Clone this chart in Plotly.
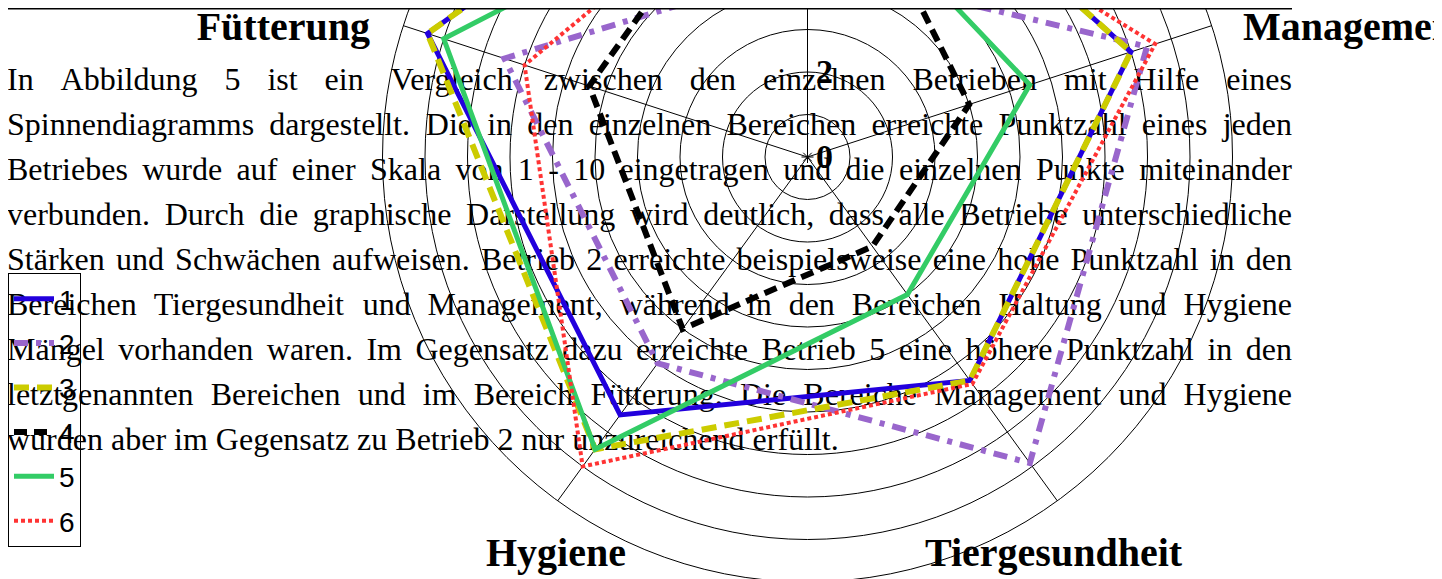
import math
import plotly.graph_objects as go

# ---------------- data ----------------
categories = ["Haltung", "Management", "Tiergesundheit", "Hygiene", "Fütterung"]
series_names = ["1", "2", "3", "4", "5", "6"]
betrieb_1 = [9.3, 8.0, 6.5, 7.5, 9.4]
betrieb_2 = [4.5, 8.4, 8.9, 6.0, 7.5]
betrieb_3 = [9.3, 8.0, 6.5, 8.5, 9.4]
betrieb_4 = [8.9, 4.0, 2.6, 5.0, 5.4]
betrieb_5 = [7.2, 5.5, 4.0, 8.5, 9.0]
betrieb_6 = [7.7, 8.6, 6.6, 9.0, 7.0]
radial_ticks = [0, 2, 4, 6, 8, 10]
radial_max = 10

paragraph_lines = [
    "In Abbildung 5 ist ein Vergleich zwischen den einzelnen Betrieben mit Hilfe eines",
    "Spinnendiagramms dargestellt. Die in den einzelnen Bereichen erreichte Punktzahl eines jeden",
    "Betriebes wurde auf einer Skala von 1 - 10 eingetragen und die einzelnen Punkte miteinander",
    "verbunden. Durch die graphische Darstellung wird deutlich, dass alle Betriebe unterschiedliche",
    "Stärken und Schwächen aufweisen. Betrieb 2 erreichte beispielsweise eine hohe Punktzahl in den",
    "Bereichen Tiergesundheit und Management, während in den Bereichen Haltung und Hygiene",
    "Mängel vorhanden waren. Im Gegensatz dazu erreichte Betrieb 5 eine höhere Punktzahl in den",
    "letztgenannten Bereichen und im Bereich Fütterung. Die Bereiche Management und Hygiene",
    "wurden aber im Gegensatz zu Betrieb 2 nur unzureichend erfüllt.",
]

# ---------------- styles / geometry ----------------
SCREEN_W, SCREEN_H = 1442, 579
OFF = 8                              # page body margin
FIG_W, FIG_H = SCREEN_W - OFF, SCREEN_H - OFF
CX, CY = 807.5, 157.0                # screen pixel position of chart centre
S = 42.5                             # pixels per score unit

colors = ["#2200dd", "#9966cc", "#cccc00", "#000000", "#33cc66", "#ff3333"]
widths = [5, 6, 6, 6, 5, 4]
dashes = ["solid", "14px,8px,5px,8px", "15px,8px", "13px,7px", "solid", "4px,3px"]

SERIF = "Liberation Serif"
SANS = "Liberation Sans"
BODY_SIZE = 32
TITLE_SIZE = 40


def px_x(px):
    return (px - CX) / S


def px_y(py):
    return (CY - py) / S


n_cat = len(categories)
angles = [2 * math.pi * i / n_cat for i in range(n_cat)]


def to_xy(values):
    xs = [v * math.sin(a) for v, a in zip(values, angles)]
    ys = [v * math.cos(a) for v, a in zip(values, angles)]
    return xs + xs[:1], ys + ys[:1]


# Times / Liberation Serif advance widths (per 1000 em)
TW = {
    ' ': 250, 'a': 444, 'b': 500, 'c': 444, 'd': 500, 'e': 444, 'f': 333, 'g': 500, 'h': 500,
    'i': 278, 'j': 278, 'k': 500, 'l': 278, 'm': 778, 'n': 500, 'o': 500, 'p': 500, 'q': 500,
    'r': 333, 's': 389, 't': 278, 'u': 500, 'v': 500, 'w': 722, 'x': 500, 'y': 500, 'z': 444,
    'A': 722, 'B': 667, 'C': 667, 'D': 722, 'E': 611, 'F': 556, 'G': 722, 'H': 722, 'I': 333,
    'J': 389, 'K': 722, 'L': 611, 'M': 889, 'N': 722, 'O': 722, 'P': 556, 'Q': 722, 'R': 667,
    'S': 556, 'T': 611, 'U': 722, 'V': 722, 'W': 944, 'X': 722, 'Y': 722, 'Z': 611,
    'ä': 444, 'ö': 500, 'ü': 500, 'ß': 500, 'Ä': 722, 'Ö': 722, 'Ü': 722,
    ',': 250, '.': 250, '-': 333,
}


def text_w(s, size):
    return sum(TW.get(c, 500) for c in s) / 1000.0 * size


fig = go.Figure()

# ---- paragraph text (justified word by word) ----
LEFT, RIGHT = 7, 1292
wx, wy, wt = [], [], []
for i, line in enumerate(paragraph_lines):
    words = line.split()
    baseline = 93 + 45.0 * i
    ws = [text_w(w, BODY_SIZE) for w in words]
    if i < len(paragraph_lines) - 1 and len(words) > 1:
        gap = (RIGHT - LEFT - sum(ws)) / (len(words) - 1)
    else:
        gap = 0.25 * BODY_SIZE
    x = LEFT
    for w, wd in zip(words, ws):
        wx.append(px_x(x))
        wy.append(px_y(baseline - 0.35 * BODY_SIZE))
        wt.append(w)
        x += wd + gap

fig.add_trace(go.Scatter(
    x=wx, y=wy, text=wt, mode="text", textposition="middle right",
    textfont=dict(family=SERIF, size=BODY_SIZE, color="black"),
    showlegend=False, hoverinfo="skip"))

# ---- category titles ----
title_specs = [
    ("Fütterung", 370, 44, "middle left"),
    ("Management", 1243, 44, "middle right"),
    ("Hygiene", 486, 570, "middle right"),
    ("Tiergesundheit", 925, 570, "middle right"),
]
for txt, px, base, pos in title_specs:
    fig.add_trace(go.Scatter(
        x=[px_x(px)], y=[px_y(base - 0.35 * TITLE_SIZE)], text=[txt], mode="text",
        textposition=pos,
        textfont=dict(family=SERIF, size=TITLE_SIZE, color="black", weight="bold"),
        showlegend=False, hoverinfo="skip"))

# ---- radial tick labels ----
fig.add_trace(go.Scatter(
    x=[px_x(816)] * len(radial_ticks), y=[t - 2.0 / S for t in radial_ticks],
    text=[str(t) for t in radial_ticks], mode="text", textposition="middle right",
    textfont=dict(family=SERIF, size=34, color="black", weight="bold"),
    showlegend=False, hoverinfo="skip"))

# ---- series ----
all_series = [betrieb_1, betrieb_2, betrieb_3, betrieb_4, betrieb_5, betrieb_6]
for name, vals, col, lw, dsh in zip(series_names, all_series, colors, widths, dashes):
    xs, ys = to_xy(vals)
    fig.add_trace(go.Scatter(
        x=xs, y=ys, mode="lines", name=name, legendgroup=name,
        line=dict(color=col, width=lw, dash=dsh),
        hoverinfo="skip"))

# centre marker
fig.add_trace(go.Scatter(
    x=[0], y=[0], mode="markers",
    marker=dict(symbol="asterisk-open", size=10, color="black",
                line=dict(color="black", width=1)),
    showlegend=False, hoverinfo="skip"))

# ---- grid: rings and spokes ----
shapes = []
for r in range(1, radial_max + 1):
    shapes.append(dict(type="circle", xref="x", yref="y", x0=-r, x1=r, y0=-r, y1=r,
                       line=dict(color="black", width=1), layer="below"))
for a in angles:
    shapes.append(dict(type="line", xref="x", yref="y", x0=0, y0=0,
                       x1=radial_max * math.sin(a), y1=radial_max * math.cos(a),
                       line=dict(color="black", width=1), layer="below"))

# ---- table border remnant at the top of the page ----
shapes.append(dict(type="line", xref="x", yref="paper", x0=px_x(7), x1=px_x(1292),
                   y0=1 - 0.75 / FIG_H, y1=1 - 0.75 / FIG_H,
                   line=dict(color="black", width=1.5)))

fig.update_layout(
    width=FIG_W, height=FIG_H, autosize=False,
    margin=dict(l=0, r=0, t=0, b=0, pad=0, autoexpand=False),
    paper_bgcolor="white", plot_bgcolor="white",
    xaxis=dict(range=[px_x(OFF), px_x(SCREEN_W)], visible=False, fixedrange=True),
    yaxis=dict(range=[px_y(SCREEN_H), px_y(OFF)], visible=False, fixedrange=True),
    shapes=shapes,
    showlegend=True,
    legend=dict(
        xref="paper", yref="paper", x=0, y=1 - (273 - OFF) / FIG_H,
        xanchor="left", yanchor="top",
        bordercolor="black", borderwidth=1, bgcolor="rgba(0,0,0,0)",
        font=dict(family=SANS, size=28, color="black"),
        tracegroupgap=5, itemwidth=40, entrywidth=29, traceorder="grouped",
    ),
)

fig.write_html("out.html")
